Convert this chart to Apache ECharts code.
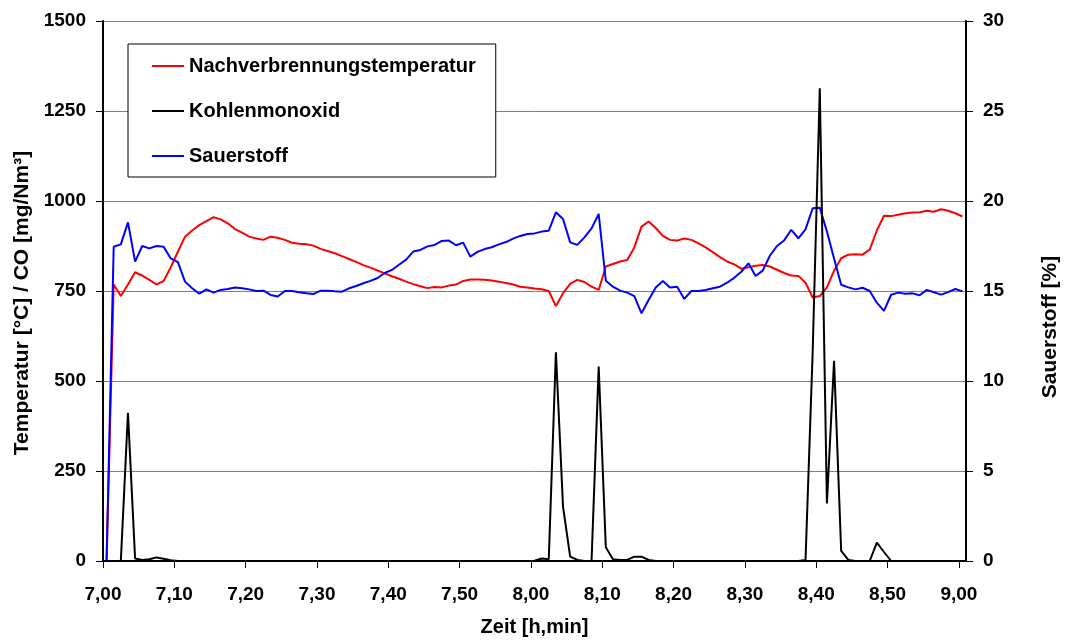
<!DOCTYPE html>
<html>
<head>
<meta charset="utf-8">
<script src="https://cdn.jsdelivr.net/npm/echarts@6/dist/echarts.min.js"></script>
<style>
  html, body { margin: 0; padding: 0; background: #fff; }
  #chart { width: 1067px; height: 640px; }
</style>
</head>
<body>
<div id="chart"></div>
<script>
// x tick labels (h,min), one every 10 minutes from 7,00
var xLabels = ['7,00', '7,10', '7,20', '7,30', '7,40', '7,50', '8,00', '8,10', '8,20', '8,30', '8,40', '8,50', '9,00'];

// one sample per minute, starting 7,00 (sample taken in the middle of each minute)
var temp = [
    0, 768, 736, 768, 802, 793, 781, 768, 778, 816,
    859, 901, 918, 933, 944, 955, 949, 938, 922, 912,
    901, 896, 892, 901, 898, 892, 884, 881, 880, 876,
    867, 861, 855, 847, 839, 831, 822, 815, 807, 799,
    791, 784, 776, 769, 763, 758, 761, 760, 765, 768,
    778, 782, 782, 781, 779, 776, 772, 768, 762, 760,
    757, 755, 750, 708, 744, 770, 781, 775, 762, 753,
    818, 825, 832, 836, 871, 929, 943, 925, 903, 892,
    890, 896, 892, 882, 871, 858, 844, 832, 824, 812,
    816, 820, 822, 818, 809, 800, 793, 792, 773, 732,
    736, 760, 806, 841, 851, 852, 851, 865, 918, 959,
    958, 962, 966, 968, 969, 973, 970, 977, 973, 966,
    957
];

var co = [
    0, 0, 0, 412, 7, 3, 5, 10, 6, 2,
    0, 0, 0, 0, 0, 0, 0, 0, 0, 0,
    0, 0, 0, 0, 0, 0, 0, 0, 0, 0,
    0, 0, 0, 0, 0, 0, 0, 0, 0, 0,
    0, 0, 0, 0, 0, 0, 0, 0, 0, 0,
    0, 0, 0, 0, 0, 0, 0, 0, 0, 0,
    1, 7, 5, 580, 151, 12, 3, 0, 1, 540,
    38, 5, 3, 3, 12, 12, 3, 0, 0, 0,
    0, 0, 0, 0, 0, 0, 0, 0, 0, 0,
    0, 0, 0, 0, 0, 0, 0, 0, 3, 580,
    1313, 160, 556, 28, 3, 0, 0, 0, 51, 25,
    0, 0, 0, 0, 0, 0, 0, 0, 0, 0,
    0
];

var o2 = [
    0, 17.46, 17.59, 18.81, 16.63, 17.5, 17.37, 17.5, 17.46, 16.81,
    16.6, 15.52, 15.15, 14.85, 15.09, 14.91, 15.06, 15.11, 15.19, 15.15,
    15.09, 15.0, 15.02, 14.78, 14.69, 15.0, 15.0, 14.93, 14.87, 14.83,
    15.02, 15.02, 14.98, 14.96, 15.15, 15.28, 15.43, 15.56, 15.72, 16.0,
    16.17, 16.46, 16.74, 17.19, 17.28, 17.48, 17.56, 17.78, 17.8, 17.54,
    17.69, 16.91, 17.17, 17.33, 17.43, 17.59, 17.72, 17.91, 18.06, 18.17,
    18.2, 18.3, 18.35, 19.37, 19.0, 17.7, 17.56, 17.98, 18.48, 19.28,
    15.57, 15.24, 15.02, 14.91, 14.72, 13.76, 14.5, 15.2, 15.56, 15.19,
    15.24, 14.56, 15.0, 15.0, 15.06, 15.15, 15.24, 15.46, 15.73, 16.07,
    16.54, 15.83, 16.13, 16.96, 17.5, 17.81, 18.4, 17.93, 18.42, 19.6,
    19.63, 18.3, 16.8, 15.35, 15.2, 15.09, 15.18, 15.0, 14.35, 13.9,
    14.79, 14.91, 14.85, 14.87, 14.76, 15.06, 14.93, 14.8, 14.94, 15.11,
    14.98
];

var font = '"Liberation Sans", Arial, sans-serif';

function pts(arr) {
    return arr.map(function (v, i) { return [i + 0.5, v]; });
}

function plain(v) {
    return String(v);
}

var myChart = echarts.init(document.getElementById('chart'));
var option = {
    backgroundColor: '#fff',
    animation: false,
    textStyle: { fontFamily: font, fontWeight: 'bold', color: '#000' },
    legend: {
        orient: 'vertical',
        left: 128,
        top: 44,
        padding: [12, 20, 11, 24],
        itemGap: 25,
        itemWidth: 32,
        itemHeight: 2,
        icon: 'rect',
        backgroundColor: '#fff',
        borderColor: '#000',
        borderWidth: 1,
        borderRadius: 0,
        textStyle: { fontFamily: font, fontWeight: 'bold', fontSize: 20, color: '#000' },
        data: ['Nachverbrennungstemperatur', 'Kohlenmonoxid', 'Sauerstoff']
    },
    grid: { left: 103, right: 101, top: 21, bottom: 79, outerBoundsMode: 'none' },
    xAxis: {
        type: 'value',
        min: 0,
        max: 121,
        interval: 10,
        name: 'Zeit [h,min]',
        nameLocation: 'middle',
        nameGap: 56,
        nameTextStyle: { fontFamily: font, fontWeight: 'bold', fontSize: 20, color: '#000' },
        axisLine: { lineStyle: { color: '#000', width: 2 } },
        axisTick: { length: 7, lineStyle: { color: '#000', width: 1 } },
        axisLabel: {
            margin: 24,
            fontFamily: font, fontWeight: 'bold', fontSize: 19, color: '#000',
            showMaxLabel: false,
            formatter: function (v) {
                return v % 10 === 0 ? xLabels[v / 10] : '';
            }
        },
        splitLine: { show: false }
    },
    yAxis: [
        {
            type: 'value',
            min: 0,
            max: 1500,
            interval: 250,
            name: 'Temperatur [°C] / CO [mg/Nm³]',
            nameLocation: 'middle',
            nameGap: 69,
            nameTextStyle: { fontFamily: font, fontWeight: 'bold', fontSize: 21, color: '#000', padding: [0, 24, 0, 0] },
            axisLine: { show: true, lineStyle: { color: '#000', width: 2 } },
            axisTick: { show: true, length: 7, lineStyle: { color: '#000', width: 1 } },
            axisLabel: { margin: 17, fontFamily: font, fontWeight: 'bold', fontSize: 19, color: '#000', formatter: plain },
            splitLine: { lineStyle: { color: '#808080', width: 1 } }
        },
        {
            type: 'value',
            min: 0,
            max: 30,
            interval: 5,
            position: 'right',
            name: 'Sauerstoff [%]',
            nameLocation: 'middle',
            nameGap: 74,
            nameTextStyle: { fontFamily: font, fontWeight: 'bold', fontSize: 21, color: '#000', padding: [0, 72, 0, 0] },
            axisLine: { show: true, lineStyle: { color: '#000', width: 2 } },
            axisTick: { show: true, length: 7, lineStyle: { color: '#000', width: 1 } },
            axisLabel: { margin: 17, fontFamily: font, fontWeight: 'bold', fontSize: 19, color: '#000', formatter: plain },
            splitLine: { show: false }
        }
    ],
    series: [
        {
            name: 'Nachverbrennungstemperatur',
            type: 'line',
            yAxisIndex: 0,
            showSymbol: false,
            color: '#ff0000',
            lineStyle: { width: 2, color: '#ff0000' },
            z: 2,
            data: pts(temp)
        },
        {
            name: 'Kohlenmonoxid',
            type: 'line',
            yAxisIndex: 0,
            showSymbol: false,
            color: '#000000',
            lineStyle: { width: 2, color: '#000000' },
            z: 4,
            data: pts(co)
        },
        {
            name: 'Sauerstoff',
            type: 'line',
            yAxisIndex: 1,
            showSymbol: false,
            color: '#0000ff',
            lineStyle: { width: 2, color: '#0000ff' },
            z: 3,
            data: pts(o2)
        }
    ]
};
myChart.setOption(option);
</script>
</body>
</html>
